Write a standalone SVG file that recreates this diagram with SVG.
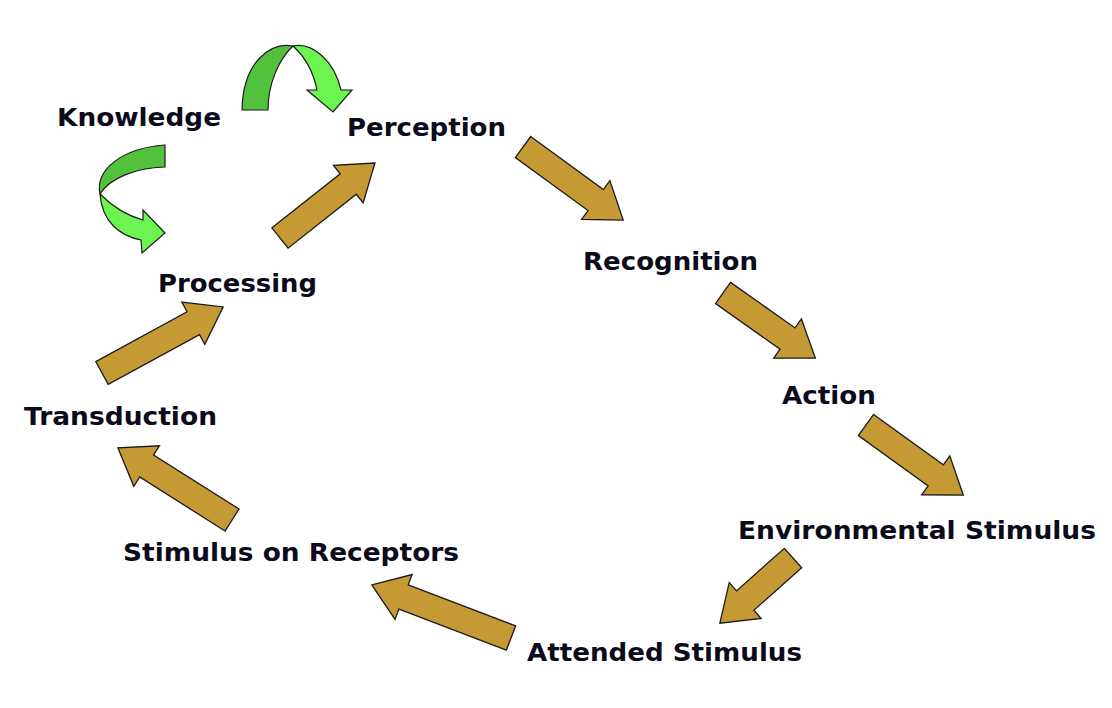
<svg xmlns="http://www.w3.org/2000/svg" xmlns:xlink="http://www.w3.org/1999/xlink" width="1112" height="708" viewBox="0 0 1112 708">
<style>
.lbl{font-family:"DejaVu Sans",Verdana,"Liberation Sans",sans-serif;font-weight:bold;font-size:25px;fill:#0b0b1c}
.ga{fill:#C59A35;stroke:#1a1a1a;stroke-width:1.3;stroke-linejoin:miter}
.gd{fill:#52C23C;stroke:#1a1a1a;stroke-width:1.2}
.gl{fill:#6CF550;stroke:#1a1a1a;stroke-width:1.2}
</style>
<rect width="1112" height="708" fill="#ffffff"/>
<g id="connectors">
<path class="ga" transform="translate(280,238) rotate(-38.3)" d="M0,-13 L87,-13 L87,-24 L121,0 L87,24 L87,13 L0,13 Z"/>
<path class="ga" transform="translate(523,147) rotate(36.1)" d="M0,-13 L90,-13 L90,-24 L124,0 L90,24 L90,13 L0,13 Z"/>
<path class="ga" transform="translate(723,293) rotate(35.2)" d="M0,-13 L79,-13 L79,-24 L113,0 L79,24 L79,13 L0,13 Z"/>
<path class="ga" transform="translate(866,425) rotate(35.8)" d="M0,-13 L86,-13 L86,-24 L120,0 L86,24 L86,13 L0,13 Z"/>
<path class="ga" transform="translate(793,558) rotate(138.3)" d="M0,-13 L64,-13 L64,-24 L98,0 L64,24 L64,13 L0,13 Z"/>
<path class="ga" transform="translate(511,638) rotate(-159.1)" d="M0,-13 L115,-13 L115,-24 L149,0 L115,24 L115,13 L0,13 Z"/>
<path class="ga" transform="translate(232,520) rotate(-147.7)" d="M0,-13 L101,-13 L101,-24 L135,0 L101,24 L101,13 L0,13 Z"/>
<path class="ga" transform="translate(102,373) rotate(-28.6)" d="M0,-13 L104,-13 L104,-24 L138,0 L104,24 L104,13 L0,13 Z"/>
<!-- green curved: Knowledge to Perception -->
<path class="gd" d="M242,110 L268,110 C268,85 278,60 293,46 C270,42 243,62 242,110 Z"/>
<path class="gl" d="M293,46 C312,42 334,60 341,90 L352,90 L333,112 L307,90 L317,90 C313,70 304,56 293,46 Z"/>
<!-- green curved: Knowledge to Processing -->
<path class="gd" d="M165,145 L165,167 C135,168 110,178 100,194 C95,170 122,148 165,145 Z"/>
<path class="gl" d="M100,194 C112,206 128,216 143,220 L143,210 L165,233 L142,253 L141,240 C120,236 102,222 100,194 Z"/>
</g>
<g id="knowledge"><text class="lbl" x="57" y="126" textLength="164" lengthAdjust="spacingAndGlyphs">Knowledge</text></g>
<g id="perception"><text class="lbl" x="347" y="136" textLength="159" lengthAdjust="spacingAndGlyphs">Perception</text></g>
<g id="recognition"><text class="lbl" x="583" y="270" textLength="175" lengthAdjust="spacingAndGlyphs">Recognition</text></g>
<g id="action"><text class="lbl" x="782" y="404" textLength="94" lengthAdjust="spacingAndGlyphs">Action</text></g>
<g id="environmental-stimulus"><text class="lbl" x="738" y="539" textLength="358" lengthAdjust="spacingAndGlyphs">Environmental Stimulus</text></g>
<g id="attended-stimulus"><text class="lbl" x="527" y="661" textLength="275" lengthAdjust="spacingAndGlyphs">Attended Stimulus</text></g>
<g id="stimulus-on-receptors"><text class="lbl" x="123" y="561" textLength="336" lengthAdjust="spacingAndGlyphs">Stimulus on Receptors</text></g>
<g id="transduction"><text class="lbl" x="24" y="425" textLength="193" lengthAdjust="spacingAndGlyphs">Transduction</text></g>
<g id="processing"><text class="lbl" x="158" y="292" textLength="159" lengthAdjust="spacingAndGlyphs">Processing</text></g>
</svg>
